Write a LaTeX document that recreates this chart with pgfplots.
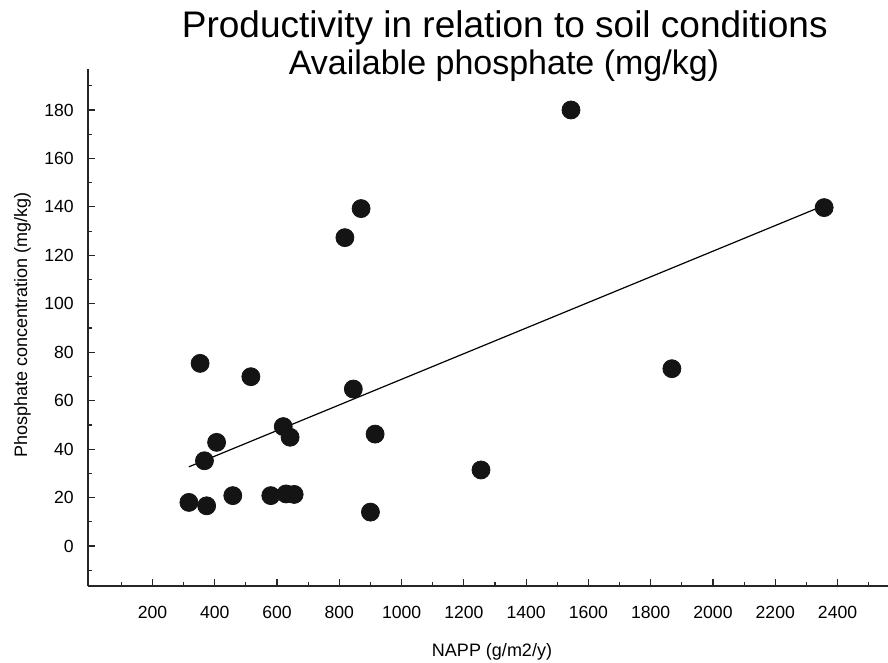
\documentclass[border=0pt]{standalone}
\usepackage{pgfplots}
\usepackage{pgfplotstable}
\pgfplotsset{compat=1.18}
\usepackage{fontspec}
\setmainfont{Liberation Sans}

% NAPP (g/m2/y) against available phosphate (mg/kg)
\pgfplotstableread{
napp phos
317 18.0
374 16.6
367 35.2
406 42.8
353 75.4
458 20.8
516 69.9
580 20.8
620 49.3
642 44.9
629 21.5
655 21.3
818 127.3
870 139.3
845 64.8
915 46.2
900 14.0
1255 31.4
1544 180.0
1868 73.2
2357 139.7
}\soildata

\begin{document}
\begin{tikzpicture}
\begin{axis}[
  scale only axis,
  width=400pt, height=258.35pt,
  xmin=-7, xmax=2562, ymin=-16.5, ymax=196.8,
  axis x line*=bottom, axis y line*=left,
  axis line style={line width=0.7pt, color=black!85},
  xtick={200,400,...,2400},
  minor xtick={100,300,...,2500},
  ytick={0,20,...,180},
  minor ytick={-10,10,...,190},
  tick align=inside,
  major tick length=3.5pt, minor tick length=2.2pt,
  tick style={line width=0.6pt, black!85},
  /pgf/number format/assume math mode=true,
  /pgf/number format/1000 sep={},
  tick label style={font=\fontsize{8.8}{10}\selectfont},
  xticklabel style={yshift=-6.5pt},
  yticklabel style={xshift=-3.6pt},
  clip=false,
]
% fitted trend line
\addplot[black, line width=0.6pt] coordinates {(317,32.7) (2357,140.6)};
% sites
\addplot[only marks, mark=*, mark size=4.5pt,
  mark options={fill=black!92, draw=black!92}]
  table[x=napp, y=phos]{\soildata};

\node[anchor=base, font=\fontsize{18.5}{20}\selectfont]
  at (rel axis cs:0.521,1.0606) {Productivity in relation to soil conditions};
\node[anchor=base, font=\fontsize{17}{19}\selectfont]
  at (rel axis cs:0.52,0.989) {Available phosphate (mg/kg)};
\node[anchor=base, font=\fontsize{9}{10}\selectfont]
  at (rel axis cs:0.505,-0.1374) {NAPP (g/m2/y)};
\node[anchor=base, rotate=90, font=\fontsize{9}{10}\selectfont]
  at (rel axis cs:-0.076,0.505) {Phosphate concentration (mg/kg)};

\coordinate (bl) at (rel axis cs:-0.11,-0.149);
\coordinate (tr) at (rel axis cs:1,1.1341);
\end{axis}
\pgfresetboundingbox
\path (bl) rectangle (tr);
\end{tikzpicture}
\end{document}
